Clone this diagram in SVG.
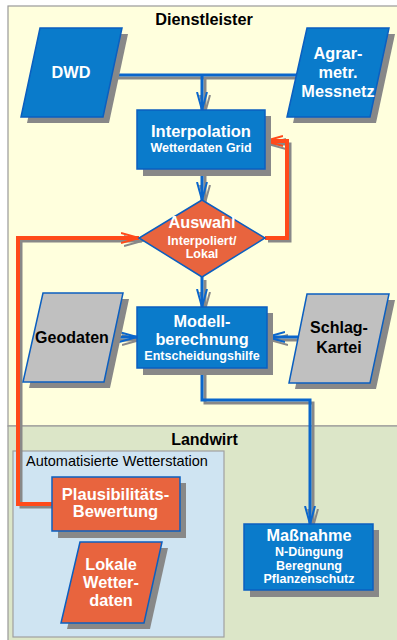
<svg xmlns="http://www.w3.org/2000/svg" width="397" height="640" viewBox="0 0 397 640">
<style>
.t{font-family:"Liberation Sans",Arial,sans-serif;font-weight:bold;text-anchor:middle}
.w{fill:#ffffff}
.k{fill:#000000}
.big{font-size:16.3px}
.sm{font-size:12.5px}
.blue{fill:#0A7BCB;stroke:#0B5FC0;stroke-width:1.5}
.org{fill:#E8643E;stroke:#0B5FC0;stroke-width:1.5}
.gry{fill:#C0C0C0;stroke:#0B5FC0;stroke-width:1.5}
.sh{fill:#888888}
.cb{fill:none;stroke:#0A66CC;stroke-width:3}
.co{fill:none;stroke:#FF4A1A;stroke-width:4}
.cs{fill:none;stroke:#888888;stroke-width:3}
</style>
<defs>
<marker id="ab" viewBox="0 0 20 12" refX="18" refY="6" markerWidth="20" markerHeight="12" orient="auto" markerUnits="userSpaceOnUse"><path d="M0,1 L18,6 L0,11" fill="none" stroke="#0A66CC" stroke-width="2"/></marker>
<marker id="ao" viewBox="0 0 20 12" refX="18" refY="6" markerWidth="20" markerHeight="12" orient="auto" markerUnits="userSpaceOnUse"><path d="M0,1 L18,6 L0,11" fill="none" stroke="#FF4A1A" stroke-width="2"/></marker>
<marker id="as" viewBox="0 0 20 12" refX="18" refY="6" markerWidth="20" markerHeight="12" orient="auto" markerUnits="userSpaceOnUse"><path d="M0,1 L18,6 L0,11" fill="none" stroke="#888888" stroke-width="2"/></marker>
</defs>
<g id="regions">
<rect x="8" y="6" width="395" height="420" fill="#FFFFDD" stroke="#999999" stroke-width="1.2"/>
<rect x="8" y="426" width="395" height="220" fill="#DCE6C8" stroke="#999999" stroke-width="1.2"/>
<text class="t k" x="204" y="25" font-size="16.3">Dienstleister</text>
<text class="t k" x="204.5" y="445" font-size="16">Landwirt</text>
</g>
<g id="station">
<rect x="13" y="451" width="211" height="186" fill="#CFE4F2" stroke="#A0A0A0" stroke-width="1.2"/>
<text x="26" y="466" font-family="'Liberation Sans',Arial,sans-serif" font-size="14.5" fill="#000">Automatisierte Wetterstation</text>
</g>
<g id="connectors">
<path class="cs" d="M115,78 H303"/>
<path class="cs" d="M205,78 V113" marker-end="url(#as)"/>
<path class="cs" d="M205,172 V203" marker-end="url(#as)"/>
<path class="cs" d="M205,280 V310" marker-end="url(#as)"/>
<path class="cs" d="M116,340 H140" marker-end="url(#as)"/>
<path class="cs" d="M301,340 H270" marker-end="url(#as)"/>
<path class="cs" d="M205,371 V403 H313 V527" marker-end="url(#as)"/>
<path class="cs" d="M55,507 H21 V241 H142" marker-end="url(#as)"/>
<path class="cs" d="M268,241 H290 V144 H268" marker-end="url(#as)"/>
<path class="cb" d="M112,75 H300"/>
<path class="cb" d="M202,75 V110" marker-end="url(#ab)"/>
<path class="cb" d="M202,169 V200" marker-end="url(#ab)"/>
<path class="cb" d="M202,277 V307" marker-end="url(#ab)"/>
<path class="cb" d="M113,337 H137" marker-end="url(#ab)"/>
<path class="cb" d="M298,337 H267" marker-end="url(#ab)"/>
<path class="cb" d="M202,368 V400 H310 V524" marker-end="url(#ab)"/>
<path class="co" d="M52,504 H18 V238 H139" marker-end="url(#ao)"/>
<path class="co" d="M265,238 H287 V141 H265" marker-end="url(#ao)"/>
</g>
<g id="dwd">
<polygon class="sh" points="46,34 128,34 109,123 27,123"/>
<polygon class="blue" points="40,28 122,28 103,117 21,117"/>
<text class="t w big" x="71" y="78">DWD</text>
</g>
<g id="agrar">
<polygon class="sh" points="313,34 395,34 376,123 293,123"/>
<polygon class="blue" points="307,28 389,28 370,117 287,117"/>
<text class="t w big" x="338" y="59">Agrar-</text>
<text class="t w big" x="338" y="78">metr.</text>
<text class="t w big" x="338" y="97">Messnetz</text>
</g>
<g id="interpolation">
<rect class="sh" x="143" y="116" width="128" height="60"/>
<rect class="blue" x="137" y="110" width="128" height="59"/>
<text class="t w" x="201" y="137" font-size="16.5">Interpolation</text>
<text class="t w sm" x="201" y="152">Wetterdaten Grid</text>
</g>
<g id="auswahl">
<polygon class="org" points="202,200 265,238 202,277 139,238"/>
<text class="t w big" x="202" y="228">Auswahl</text>
<text class="t w sm" x="202" y="245">Interpoliert/</text>
<text class="t w sm" x="202" y="258">Lokal</text>
</g>
<g id="modell">
<rect class="sh" x="143" y="313" width="130" height="62"/>
<rect class="blue" x="137" y="307" width="130" height="61"/>
<text class="t w big" x="202" y="327">Modell-</text>
<text class="t w big" x="202" y="345">berechnung</text>
<text class="t w sm" x="202" y="360">Entscheidungshilfe</text>
</g>
<g id="geodaten">
<polygon class="sh" points="49,299 129,299 110,388 29,388"/>
<polygon class="gry" points="43,293 123,293 104,382 23,382"/>
<text class="t k" x="72" y="343" font-size="16">Geodaten</text>
</g>
<g id="schlag">
<polygon class="sh" points="313,300 395,300 376,389 295,389"/>
<polygon class="gry" points="307,294 389,294 370,383 289,383"/>
<text class="t k" x="339" y="333" font-size="16">Schlag-</text>
<text class="t k" x="339" y="353" font-size="16">Kartei</text>
</g>
<g id="massnahme">
<rect class="sh" x="250" y="530" width="129" height="67"/>
<rect class="blue" x="244" y="524" width="129" height="66"/>
<text class="t w big" x="309" y="541">Maßnahme</text>
<text class="t w sm" x="309" y="556">N-Düngung</text>
<text class="t w sm" x="309" y="570">Beregnung</text>
<text class="t w sm" x="309" y="583">Pflanzenschutz</text>
</g>
<g id="plausi">
<rect class="sh" x="58" y="483" width="128" height="55"/>
<rect class="org" x="52" y="477" width="128" height="54"/>
<text class="t w" x="115.5" y="500" font-size="16.5">Plausibilitäts-</text>
<text class="t w" x="115.5" y="517" font-size="16.5">Bewertung</text>
</g>
<g id="lokal">
<polygon class="sh" points="86,548 168,548 150,629 67,629"/>
<polygon class="org" points="80,542 162,542 144,623 61,623"/>
<text class="t w big" x="111" y="570">Lokale</text>
<text class="t w big" x="111" y="588">Wetter-</text>
<text class="t w big" x="111" y="606">daten</text>
</g>
</svg>
